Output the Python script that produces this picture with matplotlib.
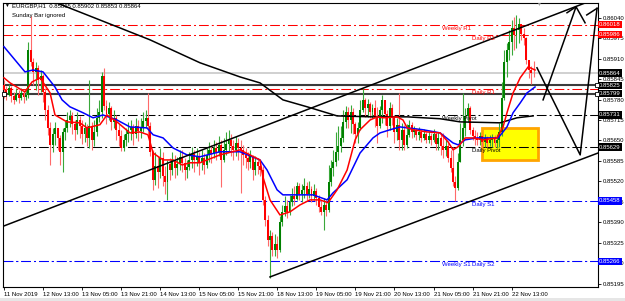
import matplotlib
matplotlib.use("Agg")
import matplotlib.pyplot as plt
from matplotlib.patches import Rectangle

plt.rcParams["font.family"] = ["Liberation Sans", "DejaVu Sans"]
plt.rcParams["lines.scale_dashes"] = False

# EURGBP H1 candles, prices in points (1e-5)
first_open = 85827
closes = [
    85811, 85795, 85817, 85792, 85779, 85798, 85785, 85801, 85789, 85795,
    85938, 85900, 85868, 85881, 85843, 85855, 85804, 85747, 85690, 85636,
    85671, 85690, 85658, 85614, 85677, 85690, 85715, 85728, 85703, 85684,
    85715, 85696, 85671, 85690, 85658, 85696, 85652, 85677, 85722, 85741,
    85855, 85760, 85735, 85754, 85709, 85722, 85684, 85664, 85626, 85652,
    85671, 85684, 85693, 85671, 85696, 85680, 85690, 85712, 85722, 85696,
    85614, 85525, 85569, 85550, 85595, 85537, 85518, 85576, 85556, 85588,
    85563, 85576, 85598, 85579, 85556, 85566, 85588, 85607, 85588, 85601,
    85582, 85595, 85572, 85604, 85620, 85607, 85626, 85614, 85636, 85588,
    85620, 85639, 85652, 85633, 85620, 85642, 85626, 85620, 85604, 85595,
    85582, 85601, 85556, 85582, 85569, 85556, 85461, 85397, 85334, 85347,
    85302, 85321, 85302, 85391, 85423, 85442, 85423, 85455, 85474, 85464,
    85506, 85480, 85493, 85506, 85480, 85496, 85474, 85490, 85467, 85439,
    85423, 85445, 85429, 85518, 85563, 85582, 85614, 85633, 85658, 85709,
    85741, 85715, 85741, 85703, 85671, 85690, 85747, 85779, 85754, 85766,
    85741, 85754, 85722, 85696, 85747, 85779, 85735, 85696, 85754, 85722,
    85677, 85700, 85652, 85684, 85636, 85668, 85700, 85677, 85684, 85668,
    85677, 85658, 85671, 85652, 85664, 85652, 85671, 85639, 85658, 85633,
    85620, 85633, 85595, 85563, 85518, 85499, 85582, 85652, 85690, 85728,
    85754, 85684, 85664, 85658, 85652, 85664, 85645, 85658, 85642, 85652,
    85658, 85642, 85652, 85677, 85785, 85900, 85938, 85963, 86008, 85986,
    86002, 86021, 85989, 85976, 85906, 85874, 85865, 85864,
]
highs = [
    85843, 85824, 85830, 85824, 85804, 85817, 85811, 85817, 85811, 85817,
    85963, 86046, 85913, 85900, 85890, 85874, 85862, 85817, 85763, 85709,
    85690, 85709, 85690, 85668, 85690, 85715, 85741, 85747, 85741, 85715,
    85741, 85728, 85715, 85709, 85703, 85843, 85709, 85715, 85754, 85779,
    85868, 85881, 85779, 85773, 85760, 85747, 85731, 85703, 85684, 85671,
    85690, 85709, 85715, 85703, 85722, 85715, 85722, 85741, 85747, 85801,
    85709, 85620, 85614, 85601, 85626, 85614, 85569, 85588, 85595, 85614,
    85604, 85598, 85620, 85620, 85595, 85588, 85614, 85630, 85620, 85626,
    85614, 85620, 85610, 85626, 85645, 85636, 85652, 85645, 85664, 85652,
    85658, 85677, 85684, 85671, 85652, 85664, 85658, 85652, 85636, 85626,
    85614, 85620, 85604, 85601, 85595, 85588, 85569, 85474, 85413, 85366,
    85359, 85353, 85347, 85410, 85445, 85474, 85461, 85477, 85499, 85506,
    85518, 85515, 85512, 85531, 85518, 85521, 85506, 85512, 85499, 85477,
    85461, 85467, 85461, 85572, 85588, 85620, 85677, 85696, 85696, 85747,
    85760, 85757, 85763, 85754, 85709, 85709, 85779, 85817, 85785, 85782,
    85773, 85766, 85779, 85757, 85760, 85795, 85779, 85747, 85773, 85766,
    85728, 85722, 85801, 85706, 85700, 85703, 85715, 85709, 85696, 85690,
    85693, 85684, 85687, 85677, 85680, 85674, 85687, 85677, 85677, 85671,
    85674, 85652, 85642, 85620, 85630, 85537, 85610, 85706, 85801, 85754,
    85769, 85760, 85693, 85684, 85677, 85677, 85668, 85671, 85664, 85668,
    85671, 85668, 85671, 85706, 85836, 85938, 85960, 86002, 86033, 86043,
    86049, 86040, 86014, 86008, 85979, 85900, 85887, 85902,
]
lows = [
    85785, 85779, 85792, 85773, 85766, 85776, 85769, 85779, 85769, 85779,
    85785, 85887, 85827, 85811, 85795, 85804, 85773, 85715, 85668, 85572,
    85614, 85636, 85620, 85572, 85550, 85652, 85677, 85693, 85671, 85652,
    85671, 85658, 85639, 85645, 85633, 85626, 85620, 85633, 85664, 85709,
    85722, 85747, 85703, 85715, 85684, 85690, 85652, 85633, 85617, 85617,
    85633, 85645, 85652, 85636, 85658, 85649, 85658, 85677, 85690, 85671,
    85601, 85493, 85509, 85499, 85531, 85506, 85480, 85461, 85525, 85541,
    85531, 85541, 85556, 85550, 85525, 85531, 85556, 85563, 85550, 85569,
    85541, 85556, 85544, 85563, 85582, 85579, 85595, 85588, 85601, 85502,
    85582, 85604, 85614, 85601, 85588, 85601, 85588, 85483, 85572, 85563,
    85556, 85563, 85525, 85541, 85544, 85537, 85445, 85378, 85315, 85213,
    85283, 85283, 85277, 85296, 85378, 85410, 85404, 85413, 85442, 85445,
    85461, 85461, 85455, 85467, 85461, 85467, 85455, 85461, 85445, 85423,
    85413, 85366, 85410, 85423, 85506, 85537, 85569, 85588, 85614, 85645,
    85690, 85690, 85674, 85671, 85642, 85642, 85684, 85741, 85725, 85725,
    85722, 85722, 85693, 85642, 85690, 85706, 85700, 85661, 85684, 85700,
    85642, 85652, 85620, 85620, 85620, 85626, 85661, 85658, 85661, 85652,
    85652, 85645, 85652, 85642, 85642, 85636, 85645, 85620, 85620, 85604,
    85595, 85601, 85582, 85550, 85506, 85458, 85493, 85582, 85633, 85664,
    85709, 85671, 85652, 85636, 85636, 85636, 85630, 85630, 85630, 85633,
    85630, 85630, 85626, 85630, 85664, 85779, 85852, 85906, 85922, 85938,
    85944, 85960, 85970, 85954, 85893, 85849, 85830, 85853,
]

# moving averages (bar index, price in points)
red_ma_bar = [0, 2.5, 8.6, 11.5, 14.8, 18.9, 20.9, 25.8, 31.1, 34, 39.3, 42.2, 46.3,
              51.6, 55.7, 59, 61.1, 65.2, 69.3, 73, 76.2, 80.3, 88.5, 96.7, 104.9,
              106.1, 109, 113.1, 117.2, 121.3, 125.4, 129.5, 132.8, 136.5, 140.6,
              143.9, 145.9, 150, 152.9, 155.3, 161.1, 163.5, 165.2, 167.6, 173.4,
              178.7, 182, 184, 186.1, 189, 192.2, 196.3, 202, 204.5, 206.1, 208.6,
              211.5, 214.8, 217.6]
red_ma = [85849, 85833, 85804, 85836, 85849, 85801, 85731, 85709, 85706, 85690, 85700,
          85731, 85709, 85674, 85677, 85668, 85610, 85588, 85588, 85572, 85579, 85579,
          85604, 85620, 85588, 85534, 85461, 85413, 85423, 85445, 85461, 85461, 85452,
          85493, 85556, 85652, 85684, 85715, 85725, 85722, 85725, 85715, 85690, 85684,
          85677, 85674, 85645, 85620, 85630, 85658, 85658, 85652, 85658, 85693, 85738,
          85801, 85849, 85884, 85874]
blue_ma_bar = [0, 8.6, 11.9, 16, 20.9, 23.8, 27, 32.4, 36.5, 40.6, 46.3, 51.6, 58.6,
               61.1, 65.2, 69.3, 75, 80.3, 88.5, 96.7, 104.9, 107.8, 111.9, 114.3,
               120.1, 126.6, 132.4, 134.8, 140.6, 145.9, 151.2, 154.1, 158.2, 162.3,
               165.2, 171.7, 178.7, 184, 186.1, 189, 193.9, 202.5, 206.1, 208.6,
               211.5, 214.3, 217.6]
blue_ma = [85948, 85868, 85874, 85868, 85820, 85779, 85757, 85738, 85722, 85731, 85715,
           85693, 85690, 85668, 85658, 85626, 85604, 85598, 85614, 85614, 85588, 85556,
           85493, 85477, 85477, 85477, 85461, 85483, 85525, 85610, 85658, 85674, 85684,
           85693, 85690, 85684, 85674, 85642, 85636, 85652, 85658, 85658, 85693, 85738,
           85769, 85801, 85820]
black_ma_bar = [18, 21.7, 39.3, 59.8, 80.3, 96.7, 104.9, 114.3, 124.2, 136.5, 151.2,
                165.2, 178.7, 186.9, 203.3, 210.2, 216.8]
black_ma = [86100, 86087, 86033, 85970, 85897, 85852, 85833, 85779, 85757, 85728, 85725,
            85725, 85719, 85709, 85706, 85722, 85728]

# pivot levels
pivot_names = ["Weekly R1", "Daily R2", "Daily R1", "Weekly Pivot", "Daily Pivot",
               "Daily S1", "Weekly S1", "Daily S2"]
pivot_prices = [0.86018, 0.85986, 0.85813, 0.85731, 0.85629, 0.85458, 0.85266, 0.85266]
pivot_colors = ["#ff0000", "#ff0000", "#ff0000", "black", "black", "#0000ff", "#0000ff", "#0000ff"]

# support / resistance lines and current bid
sr_prices = [0.85825, 0.85799]
bid_price = 0.85864

# right axis highlighted labels
tag_prices = [0.86018, 0.85986, 0.85864, 0.85825, 0.85799, 0.85731, 0.85629, 0.85458, 0.85266]
tag_colors = ["#ff0000", "#ff0000", "black", "black", "black", "black", "black", "#0000ff", "#0000ff"]

price_ticks = [0.86040, 0.85975, 0.85910, 0.85845, 0.85780, 0.85715, 0.85650,
               0.85585, 0.85520, 0.85455, 0.85390, 0.85325, 0.85260, 0.85195]
time_labels = ["11 Nov 2019", "12 Nov 13:00", "13 Nov 05:00", "13 Nov 21:00",
               "14 Nov 13:00", "15 Nov 05:00", "15 Nov 21:00", "18 Nov 13:00",
               "19 Nov 05:00", "19 Nov 21:00", "20 Nov 13:00", "21 Nov 05:00",
               "21 Nov 21:00", "22 Nov 13:00"]

# drawn objects: (bar, price) anchors
channel_up = [(-0.4, 0.85377), (238.1, 0.86087)]
channel_low = [(109, 0.85216), (243.4, 0.85610)]
projection = [
    [(218.4, 0.85881), (236.1, 0.85604), (243.0, 0.86070)],
    [(220.9, 0.85779), (234.4, 0.86075), (238.1, 0.86024)],
    [(230.7, 0.86056), (234.4, 0.86075)],
    [(238.8, 0.86049), (243.0, 0.86070)],
]
zone_bars = (195.9, 218.9)
zone_prices = (0.85588, 0.85690)

FS = 4.3

fig = plt.figure(figsize=(6.25, 3.01), dpi=100)
fig.patches.append(Rectangle((0, 0), 1, 3 / 301, transform=fig.transFigure,
                             facecolor="#e6e6e6", edgecolor="none"))
ax = fig.add_axes([3 / 625, 14 / 301, 595 / 625, 284 / 301])
ax.set_xlim(-0.4, 243.4)
ax.set_ylim(0.85184, 0.86087)

opens = [first_open] + closes[:-1]

# yellow zone (behind candles)
ax.add_patch(Rectangle((zone_bars[0], zone_prices[0]), zone_bars[1] - zone_bars[0],
                       zone_prices[1] - zone_prices[0], facecolor="#ffff00",
                       edgecolor="#ffa500", linewidth=2, zorder=0.1))

dashdot = (0, (7, 2.2, 1.4, 2.2))
for p, c in zip(pivot_prices, pivot_colors):
    ax.axhline(p, color=c, lw=0.75, linestyle=dashdot, zorder=2)
for p in sr_prices:
    ax.axhline(p, color="#3c3c3c", lw=1.5, zorder=2)
ax.axhline(bid_price, color="#c8c8c8", lw=1.2, zorder=2)

# line end markers
ax.plot([-0.1], [sr_prices[1]], marker="s", ms=2.6, mfc="white", mec="black", mew=0.6,
        zorder=9, clip_on=False)
ax.plot([242.9, 242.9], sr_prices, "s", ms=2.6, mfc="white", mec="black", mew=0.6,
        zorder=9, clip_on=False)

# candles
for i in range(len(closes)):
    o, c = opens[i] / 1e5, closes[i] / 1e5
    h, l = highs[i] / 1e5, lows[i] / 1e5
    up = c >= o
    ax.vlines(i, l, h, colors="#3aa83a" if up else "#ff6a6a", lw=0.8, zorder=3)
    body = max(abs(c - o), 0.000012)
    ax.bar(i, body, bottom=min(o, c), width=0.8,
           color="#008000" if up else "#ff0000", linewidth=0, zorder=4)

ax.plot(black_ma_bar, [v / 1e5 for v in black_ma], color="black", lw=1.1, zorder=5)
ax.plot(blue_ma_bar, [v / 1e5 for v in blue_ma], color="#0000ff", lw=1.1, zorder=5)
ax.plot(red_ma_bar, [v / 1e5 for v in red_ma], color="#ff0000", lw=1.1, zorder=5)

for line in [channel_up, channel_low] + projection:
    xs, ys = zip(*line)
    ax.plot(xs, ys, color="black", lw=1.1, zorder=6)

# pivot labels
for name, p, c in zip(pivot_names, pivot_prices, pivot_colors):
    x0 = 179.5 if name.startswith("Weekly") else 191.8
    ax.text(x0, p - 0.00004, name, color=c, fontsize=FS, va="top", ha="left", zorder=7)

# axes styling
for s in ax.spines.values():
    s.set_color("black")
    s.set_linewidth(0.8)
ax.yaxis.tick_right()
ax.set_yticks(price_ticks)
ax.set_yticklabels([f"{p:.5f}" for p in price_ticks])
ax.set_xticks(range(0, 16 * len(time_labels), 16))
ax.set_xticklabels(time_labels, ha="left")
ax.tick_params(axis="both", labelsize=FS, length=2.5, width=0.6, pad=1.2)

for p, c in zip(tag_prices, tag_colors):
    ax.text(1.002, p, f"{p:.5f}", transform=ax.get_yaxis_transform(), color="white",
            fontsize=FS, va="center", ha="left", zorder=8,
            bbox=dict(boxstyle="square,pad=0.2", fc=c, ec="none"))

fig.text(0.006, 0.981, "\u25bc", fontsize=3.5, va="center", ha="left")
fig.text(0.019, 0.981, "EURGBP,H1  0.85865 0.85902 0.85853 0.85864", fontsize=FS,
         va="center", ha="left")
fig.text(0.019, 0.95, "Sunday Bar ignored", fontsize=FS, va="center", ha="left")
fig.text(538 / 625, 1 - 4 / 301, "\u25bc", fontsize=3.5, color="#a0a0a0",
         va="center", ha="center")

fig.savefig("out.png", dpi=100, facecolor="white")
